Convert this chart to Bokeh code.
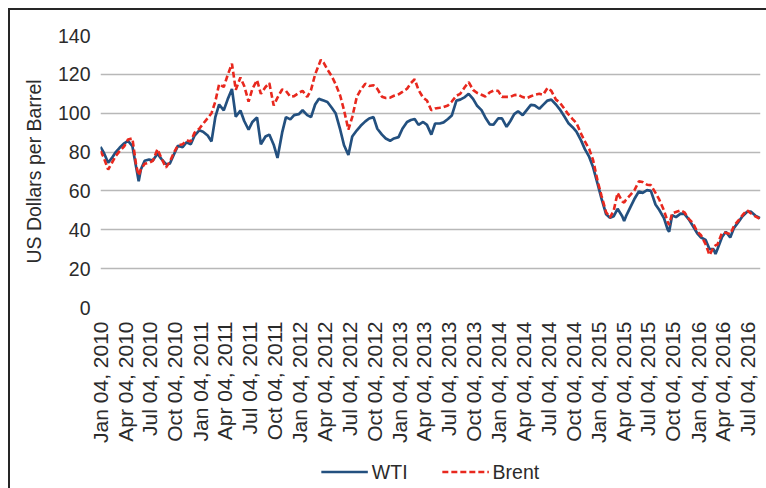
import math
import pandas as pd
from bokeh.plotting import figure
from bokeh.layouts import column
from bokeh.models import (ColumnDataSource, Legend, LegendItem, FixedTicker,
                          DatetimeTickFormatter, Range1d)
from bokeh.embed import file_html
from bokeh.resources import INLINE

# ---- data ----
dates = [
    "2010-01-04", "2010-01-15", "2010-02-01", "2010-02-15", "2010-03-01", "2010-03-15",
    "2010-04-01", "2010-04-15", "2010-05-01", "2010-05-15", "2010-05-24", "2010-06-01",
    "2010-06-15", "2010-07-01", "2010-07-15", "2010-08-01", "2010-08-15", "2010-09-01",
    "2010-09-15", "2010-10-01", "2010-10-15", "2010-11-01", "2010-11-15", "2010-12-01",
    "2010-12-15",
    "2011-01-01", "2011-01-15", "2011-02-01", "2011-02-15", "2011-03-01", "2011-03-15",
    "2011-04-01", "2011-04-15", "2011-05-01", "2011-05-15", "2011-06-01", "2011-06-15",
    "2011-07-01", "2011-07-15", "2011-08-01", "2011-08-15", "2011-09-01", "2011-09-15",
    "2011-10-01", "2011-10-15", "2011-11-01", "2011-11-15", "2011-12-01", "2011-12-15",
    "2012-01-01", "2012-01-15", "2012-02-01", "2012-02-15", "2012-03-01", "2012-03-15",
    "2012-03-22", "2012-04-01", "2012-04-15", "2012-05-01", "2012-05-15", "2012-06-01",
    "2012-06-15", "2012-07-01", "2012-07-15", "2012-08-01", "2012-08-15", "2012-09-01",
    "2012-09-15", "2012-10-01", "2012-10-15", "2012-11-01", "2012-11-15", "2012-12-01",
    "2012-12-15",
    "2013-01-01", "2013-01-15", "2013-02-01", "2013-02-15", "2013-03-01", "2013-03-15",
    "2013-04-01", "2013-04-15", "2013-05-01", "2013-05-15", "2013-06-01", "2013-06-15",
    "2013-07-01", "2013-07-15", "2013-08-01", "2013-08-15", "2013-09-01", "2013-09-15",
    "2013-10-01", "2013-10-15", "2013-11-01", "2013-11-15", "2013-12-01", "2013-12-15",
    "2014-01-01", "2014-01-15", "2014-02-01", "2014-02-15", "2014-03-01", "2014-03-15",
    "2014-04-01", "2014-04-15", "2014-05-01", "2014-05-15", "2014-06-01", "2014-06-15",
    "2014-07-01", "2014-07-15", "2014-08-01", "2014-08-15", "2014-09-01", "2014-09-15",
    "2014-10-01", "2014-10-15", "2014-11-01", "2014-11-15", "2014-12-01", "2014-12-15",
    "2015-01-01", "2015-01-15", "2015-02-01", "2015-02-15", "2015-03-01", "2015-03-15",
    "2015-04-01", "2015-04-08", "2015-04-15", "2015-05-01", "2015-05-15", "2015-06-01",
    "2015-06-15", "2015-07-01", "2015-07-15", "2015-08-01", "2015-08-15", "2015-09-01",
    "2015-09-15", "2015-09-20", "2015-10-01", "2015-10-15", "2015-11-01", "2015-11-15",
    "2015-12-01", "2015-12-15",
    "2016-01-01", "2016-01-15", "2016-02-01", "2016-02-15", "2016-03-01", "2016-03-08",
    "2016-03-15", "2016-04-01", "2016-04-15", "2016-05-01", "2016-05-15", "2016-06-01",
    "2016-06-15", "2016-07-01", "2016-07-15", "2016-08-01", "2016-08-19",
]

wti = [
    82.7, 80.0, 74.5, 77.0, 80.0, 82.2,
    84.5, 85.8, 83.0, 72.0, 65.0, 71.0,
    75.5, 76.2, 75.6, 79.2, 76.5, 73.8,
    74.0, 79.0, 83.3, 82.5, 85.0, 84.0,
    88.5,
    91.2, 90.5, 88.5, 85.5, 98.0, 104.5,
    101.5, 107.0, 112.5, 98.2, 101.4, 96.0,
    91.5, 95.5, 97.8, 84.0, 88.0, 89.0,
    83.8, 77.0, 90.0, 98.0, 96.8, 99.0,
    99.5, 101.5, 99.0, 98.0, 104.5, 107.5,
    107.0, 106.5, 105.8, 102.8, 100.0, 91.5,
    83.5, 78.5, 88.0, 91.2, 93.5, 95.8,
    97.3, 98.0, 92.0, 89.0, 87.0, 85.8,
    87.0,
    87.7, 92.0, 95.5, 96.5, 97.0, 94.0,
    95.5, 94.0, 89.0, 94.7, 94.7, 95.3,
    97.0, 98.8, 106.5, 107.0, 108.3, 110.0,
    107.4, 104.0, 101.6, 97.8, 94.3, 94.1,
    97.3, 97.3, 93.0, 96.0, 99.5, 101.0,
    99.0, 101.5, 104.3, 104.0, 102.3, 104.3,
    106.5, 107.0, 104.5, 102.0, 98.3, 95.0,
    92.8, 90.5, 86.0, 81.5, 77.5, 72.3,
    63.5, 56.0, 48.0, 46.2, 47.0, 50.8,
    47.0, 44.5, 47.0, 51.7, 55.7, 59.7,
    59.0, 60.4, 60.0, 53.0, 50.2, 46.0,
    40.0, 39.0, 47.5, 46.5, 48.3, 48.2,
    45.4, 42.2,
    38.2, 36.0, 34.8, 30.0, 30.0, 27.5,
    30.0, 36.3, 39.0, 36.0, 41.0, 44.2,
    47.0, 49.2, 49.4, 47.3, 46.0,
]

brent = [
    80.5, 77.5, 71.0, 74.5, 78.0, 80.5,
    83.0, 86.5, 87.0, 73.0, 68.0, 71.0,
    74.0, 74.5, 75.5, 81.5, 77.0, 72.0,
    75.0, 80.0, 83.5, 84.0, 86.0, 85.5,
    90.0,
    92.0, 94.5, 97.5, 100.0, 106.0, 115.0,
    113.5, 119.5, 125.5, 112.0, 118.4, 114.0,
    106.0, 112.5, 117.0, 110.0, 113.5, 115.5,
    104.0, 108.0, 112.2, 111.5, 108.5, 108.8,
    110.5, 111.5, 108.4, 112.0, 120.0, 125.0,
    127.5, 126.0, 122.5, 119.0, 115.0, 109.0,
    101.5, 91.5, 98.0, 108.5, 112.0, 115.2,
    114.0, 114.4, 112.5, 108.5, 107.8, 108.0,
    109.0,
    109.7, 111.0, 112.6, 115.5, 117.5, 112.0,
    108.0, 106.5, 101.5, 102.4, 102.8, 103.2,
    104.0, 106.0, 109.0, 110.0, 113.5, 116.0,
    112.0, 110.5, 109.5, 108.6, 110.7, 111.6,
    111.5, 108.4, 108.4, 108.4, 109.3, 109.5,
    108.3, 107.7, 108.7, 109.5, 110.0, 109.5,
    113.0, 111.5, 107.0, 105.5, 102.3, 99.5,
    97.0, 95.0, 89.5, 85.5, 81.5, 76.0,
    65.0, 57.5, 49.0, 46.3, 50.0, 59.0,
    54.6, 54.0, 55.5, 58.0, 60.2, 64.9,
    64.6, 63.2, 63.0, 59.0, 55.5, 50.0,
    44.0, 42.5, 48.5, 49.2, 50.0, 49.0,
    45.6, 43.7,
    39.1, 37.2, 32.5, 27.0, 31.0, 32.0,
    32.3, 38.5, 38.5, 37.8, 42.0, 45.0,
    47.5, 50.1, 48.5, 46.9, 45.5,
]

tick_labels = [
    "Jan 04, 2010", "Apr 04, 2010", "Jul 04, 2010", "Oct 04, 2010",
    "Jan 04, 2011", "Apr 04, 2011", "Jul 04, 2011", "Oct 04, 2011",
    "Jan 04, 2012", "Apr 04, 2012", "Jul 04, 2012", "Oct 04, 2012",
    "Jan 04, 2013", "Apr 04, 2013", "Jul 04, 2013", "Oct 04, 2013",
    "Jan 04, 2014", "Apr 04, 2014", "Jul 04, 2014", "Oct 04, 2014",
    "Jan 04, 2015", "Apr 04, 2015", "Jul 04, 2015", "Oct 04, 2015",
    "Jan 04, 2016", "Apr 04, 2016", "Jul 04, 2016",
]
y_ticks = [0, 20, 40, 60, 80, 100, 120, 140]
x_start, x_end = "2010-01-04", "2016-08-20"
series_names = ["WTI", "Brent"]

# ---- styling ----
FONT = "Liberation Sans"
TXT = "#2b2b2b"
WTI_STYLE = dict(line_color="#23507F", line_width=2.7)
BRENT_STYLE = dict(line_color="#E8281E", line_width=2.6, line_dash="6 3")

src = ColumnDataSource(dict(date=pd.to_datetime(dates), wti=wti, brent=brent))

# ---- main chart ----
p = figure(width=756, height=445, x_axis_type="datetime",
           output_backend="svg", toolbar_location=None,
           x_range=Range1d(pd.Timestamp(x_start), pd.Timestamp(x_end)),
           y_range=Range1d(y_ticks[0], y_ticks[-1]),
           min_border_left=90, min_border_right=6, min_border_top=25,
           min_border_bottom=148)
p.outline_line_color = None
p.background_fill_color = "white"
p.border_fill_color = "white"

p.line("date", "wti", source=src, **WTI_STYLE)
p.line("date", "brent", source=src, **BRENT_STYLE)

p.xgrid.grid_line_color = None
p.ygrid.grid_line_color = "#B8B8B8"
p.ygrid.grid_line_width = 1.6

p.yaxis.ticker = FixedTicker(ticks=y_ticks)
p.yaxis.axis_line_color = None
p.yaxis.major_tick_line_color = None
p.yaxis.minor_tick_line_color = None
p.yaxis.major_tick_out = 0
p.yaxis.major_tick_in = 0
p.yaxis.minor_tick_out = 0
p.yaxis.major_label_standoff = 10
p.yaxis.major_label_text_font = FONT
p.yaxis.major_label_text_font_size = "19.5px"
p.yaxis.major_label_text_color = TXT
p.yaxis.axis_label = "US Dollars per Barrel"
p.yaxis.axis_label_text_font = FONT
p.yaxis.axis_label_text_font_size = "19.5px"
p.yaxis.axis_label_text_font_style = "normal"
p.yaxis.axis_label_text_color = TXT
p.yaxis.axis_label_standoff = 10

tick_ms = [int(t.value // 10**6) for t in pd.to_datetime(tick_labels, format="%b %d, %Y")]
p.xaxis.ticker = FixedTicker(ticks=tick_ms)
fmt = "%b %d, %Y"
p.xaxis.formatter = DatetimeTickFormatter(days=fmt, months=fmt, years=fmt,
                                          hours=fmt, hourmin=fmt, minutes=fmt,
                                          minsec=fmt, seconds=fmt,
                                          milliseconds=fmt, microseconds=fmt)
p.xaxis.axis_line_color = None
p.xaxis.major_tick_line_color = None
p.xaxis.minor_tick_line_color = None
p.xaxis.major_tick_out = 0
p.xaxis.major_tick_in = 0
p.xaxis.minor_tick_out = 0
p.xaxis.major_label_orientation = math.pi / 2
p.xaxis.major_label_standoff = 14
p.xaxis.major_label_text_font = FONT
p.xaxis.major_label_text_font_size = "21px"
p.xaxis.major_label_text_color = TXT

# ---- legend strip under the chart ----
# the same series are attached here only as legend keys; the strip's ranges
# keep the lines themselves out of view
leg = figure(width=756, height=33, output_backend="svg", toolbar_location=None,
             x_range=Range1d(0, 1), y_range=Range1d(0, 1),
             x_axis_location=None, y_axis_location=None,
             min_border_left=90, min_border_right=6, min_border_top=0,
             min_border_bottom=0)
leg.outline_line_color = None
leg.grid.visible = False
leg.background_fill_color = "white"
leg.border_fill_color = "white"
l1 = leg.line("date", "wti", source=src, **WTI_STYLE)
l2 = leg.line("date", "brent", source=src, **BRENT_STYLE)
legend = Legend(items=[LegendItem(label=series_names[0], renderers=[l1]),
                       LegendItem(label=series_names[1], renderers=[l2])],
                orientation="horizontal", location="center",
                border_line_color=None, background_fill_alpha=0,
                glyph_width=47, glyph_height=20, spacing=34, label_standoff=4,
                padding=2, margin=0,
                label_text_font=FONT, label_text_font_size="19.5px",
                label_text_color=TXT)
leg.add_layout(legend, "center")

layout = column(p, leg, spacing=0,
                styles={"margin-left": "8px", "margin-top": "8px",
                        "border-top": "2px solid #262626",
                        "border-left": "2px solid #262626"})

open("out.html", "w").write(file_html(layout, INLINE))
